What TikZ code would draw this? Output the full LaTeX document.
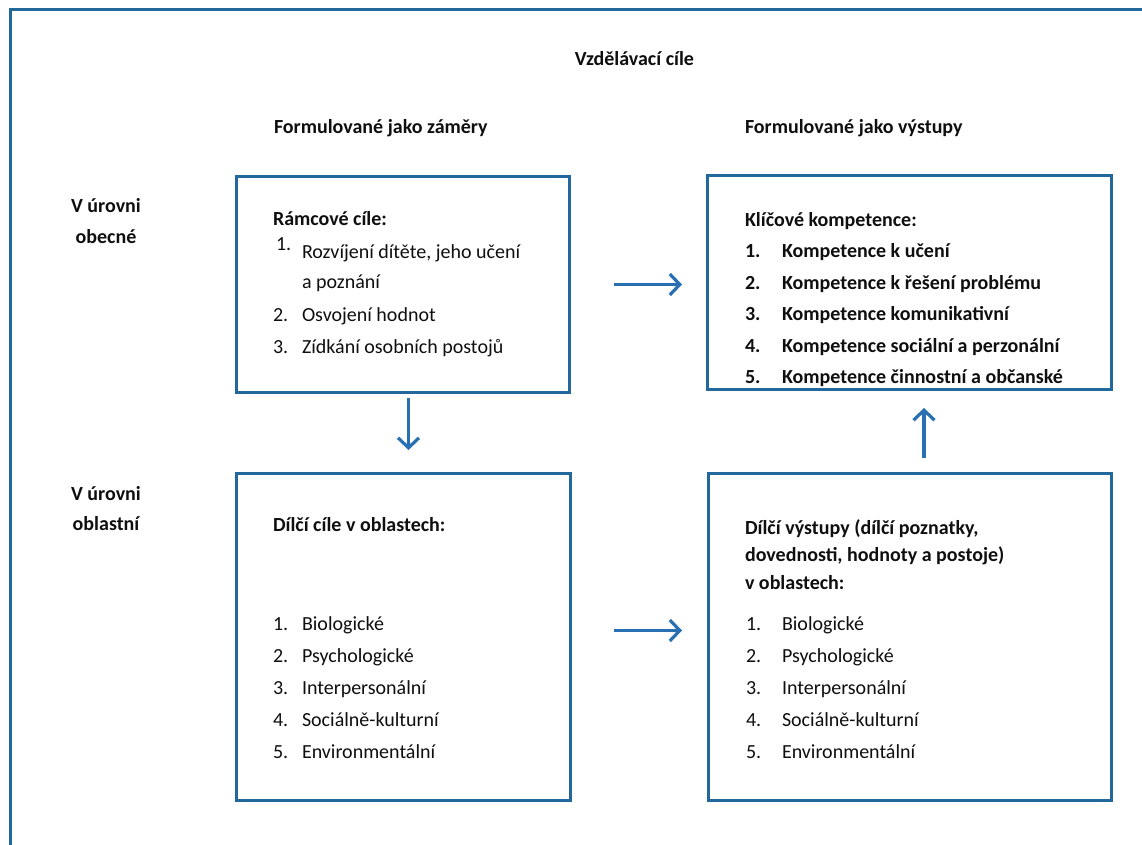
\documentclass[tikz,border=0pt]{standalone}
\usepackage{fontspec}
\setmainfont{Carlito}
\usetikzlibrary{arrows.meta,calc}
\definecolor{framebl}{RGB}{34,104,156}
\definecolor{arrowbl}{RGB}{40,112,178}
\definecolor{ink}{RGB}{15,15,15}

\begin{document}
\begin{tikzpicture}[x=1pt,y=-1pt,
  every node/.style={inner sep=0pt, outer sep=0pt, text=ink,
                     font=\fontsize{20}{24}\selectfont},
  panel/.style={draw=framebl, line width=3pt, rectangle},
  txt/.style={anchor=base west},
  hd/.style={anchor=base west, font=\fontsize{20}{24}\selectfont\bfseries},
  hdc/.style={anchor=base, font=\fontsize{20}{24}\selectfont\bfseries},
  flow/.style={draw=arrowbl, line width=3.2pt,
               -{Straight Barb[length=10pt,width=21pt]}},
]
\useasboundingbox (0,0) rectangle (1142,845);
\clip (0,0) rectangle (1142,845);
\fill[white] (0,0) rectangle (1142,845);

% outer frame (runs past the right and bottom edges)
\draw[framebl, line width=3pt] (10,10) rectangle (1170,875);

% headings
\node[hdc] (title) at (634.5,66) {Vzdělávací cíle};
\node[hd] (colA) at (274,134) {Formulované jako záměry};
\node[hd] (colB) at (745,134) {Formulované jako výstupy};

\node[hdc] (rowA1) at (106,212) {V úrovni};
\node[hdc] (rowA2) at (106,243) {obecné};
\node[hdc] (rowB1) at (106,500) {V úrovni};
\node[hdc] (rowB2) at (106,530.5) {oblastní};

% the four panels
\node[panel, minimum width=333pt, minimum height=215pt] (tl) at (402.5,284.5) {};
\node[panel, minimum width=404pt, minimum height=213pt] (tr) at (909,282.5) {};
\node[panel, minimum width=334pt, minimum height=327pt] (bl) at (403,636.5) {};
\node[panel, minimum width=403pt, minimum height=327pt] (br) at (909.5,636.5) {};

% top left panel
\node[hd] (tlh) at (273,225) {Rámcové cíle:};
\node[txt] (tln1) at (276,250) {1.};
\node[txt] (tlt1) at (302,258) {Rozvíjení dítěte, jeho učení};
\node[txt] (tlt1b) at (302,288) {a poznání};
\node[txt] (tln2) at (273,321) {2.};
\node[txt] (tlt2) at (302,321) {Osvojení hodnot};
\node[txt] (tln3) at (273,353) {3.};
\node[txt] (tlt3) at (302,353) {Zídkání osobních postojů};

% top right panel
\node[hd] (trh) at (745,226) {Klíčové kompetence:};
\foreach \n/\t/\y in {1/Kompetence k učení/257.5,
                      2/Kompetence k řešení problému/289,
                      3/Kompetence komunikativní/320.5,
                      4/Kompetence sociální a perzonální/352,
                      5/Kompetence činnostní a občanské/383}{
  \node[hd] (trn\n) at (745,\y) {\n.};
  \node[hd] (trt\n) at (782,\y) {\t};
}

% bottom left panel
\node[hd] (blh) at (273,531) {Dílčí cíle v oblastech:};
\foreach \n/\t/\y in {1/Biologické/630,
                      2/Psychologické/662,
                      3/Interpersonální/694,
                      4/Sociálně-kulturní/726,
                      5/Environmentální/758}{
  \node[txt] (bln\n) at (273,\y) {\n.};
  \node[txt] (blt\n) at (302,\y) {\t};
}

% bottom right panel
\node[hd] (brh1) at (745,534) {Dílčí výstupy (dílčí poznatky,};
\node[hd] (brh2) at (745,561.5) {dovednosti, hodnoty a postoje)};
\node[hd] (brh3) at (745,589) {v oblastech:};
\foreach \n/\t/\y in {1/Biologické/630,
                      2/Psychologické/662,
                      3/Interpersonální/694.5,
                      4/Sociálně-kulturní/726.5,
                      5/Environmentální/758.5}{
  \node[txt] (brn\n) at (746,\y) {\n.};
  \node[txt] (brt\n) at (782,\y) {\t};
}

% connectors
\draw[flow] ($(tl.east)+(45,0)$) -- ($(tr.west |- tl.east)+(-25,0)$);
\draw[flow] ($(tl.south)+(6,6)$) -- ($(tl.south |- bl.north)+(6,-23)$);
\draw[flow] ($(br.north)+(14.5,-15)$) -- ($(br.north |- tr.south)+(14.5,19)$);
\draw[flow] ($(bl.east)+(44,-6)$) -- ($(br.west |- bl.east)+(-26,-6)$);
\end{tikzpicture}
\end{document}
